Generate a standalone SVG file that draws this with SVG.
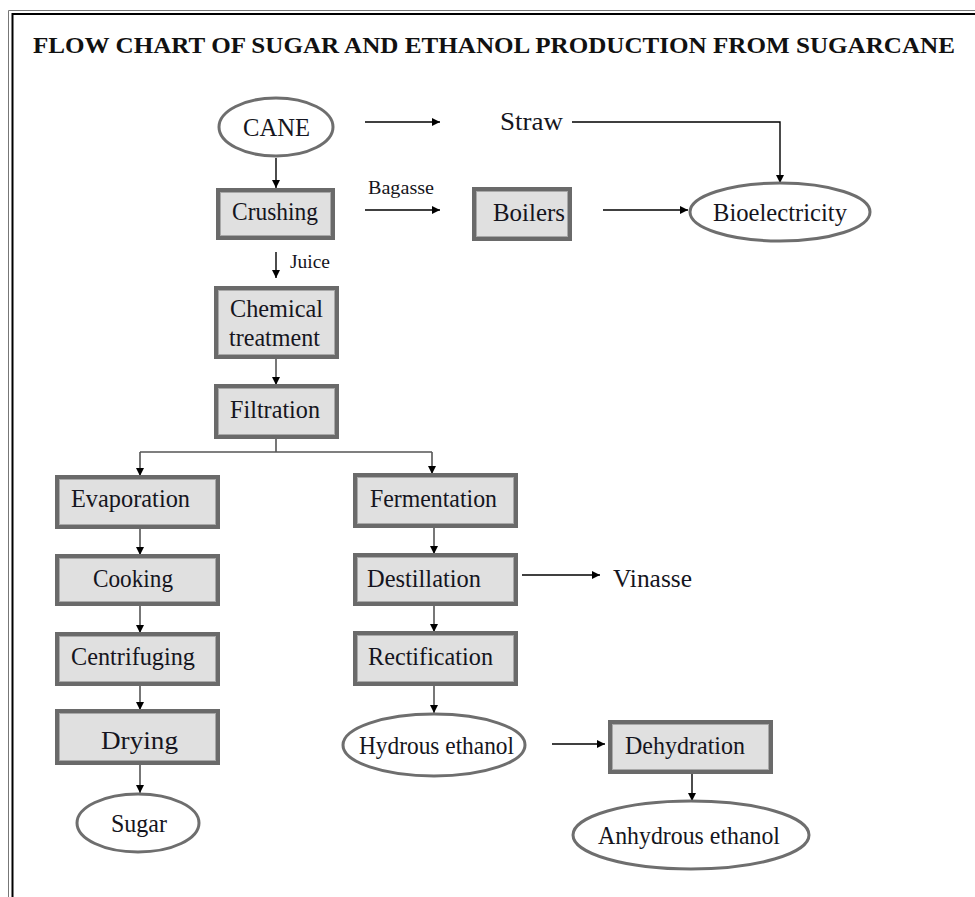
<svg xmlns="http://www.w3.org/2000/svg" width="975" height="897" viewBox="0 0 975 897">
  <defs>
    <marker id="arrow" viewBox="0 0 10 10" refX="10" refY="5" markerWidth="8" markerHeight="8" markerUnits="userSpaceOnUse" orient="auto">
      <path d="M0,0 L10,5 L0,10 z" fill="#000"/>
    </marker>
    <style>
      .box { fill: #e0e0e0; stroke: #6a6a6a; stroke-width: 4; }
      .box-inner { fill: none; stroke: #a8a8a8; stroke-width: 1; }
      .oval { fill: #fff; stroke: #6e6e6e; stroke-width: 3; }
      .lbl { font-size: 26px; fill: #151520; }
      .small { font-size: 19px; fill: #151520; }
      .title { font-size: 24px; font-weight: bold; fill: #111; }
      .link { fill: none; stroke: #000; stroke-width: 1.4; }
      .link-gray { fill: none; stroke: #555; stroke-width: 1.6; }
    </style>
  </defs>

  <rect x="0" y="0" width="975" height="897" fill="#fff"/>

  <!-- page frame (double rule on top and left) -->
  <g id="frame" fill="none">
    <path d="M8.5,897 V10.5 H975" stroke="#777" stroke-width="1"/>
    <path d="M12.5,897 V14 H975" stroke="#000" stroke-width="2"/>
  </g>

  <g font-family="'Liberation Serif', 'DejaVu Serif', serif">
  <text class="title" x="33" y="53" textLength="922" lengthAdjust="spacingAndGlyphs">FLOW CHART OF SUGAR AND ETHANOL PRODUCTION FROM SUGARCANE</text>

  <!-- connectors -->
  <g id="connectors">
    <path class="link" d="M365,122 H440" marker-end="url(#arrow)"/>
    <path class="link" d="M572,122 H780 V183" marker-end="url(#arrow)"/>
    <path class="link" d="M276,158 V188" marker-end="url(#arrow)"/>
    <path class="link" d="M365,210 H440" marker-end="url(#arrow)"/>
    <path class="link" d="M603,210 H688" marker-end="url(#arrow)"/>
    <path class="link" d="M276,252 V278" marker-end="url(#arrow)"/>
    <path class="link-gray" d="M276,358 V385" marker-end="url(#arrow)"/>
    <path class="link-gray" d="M276,438 V452 M140,452 H432"/>
    <path class="link-gray" d="M140,452 V476" marker-end="url(#arrow)"/>
    <path class="link-gray" d="M432,452 V474" marker-end="url(#arrow)"/>
    <path class="link-gray" d="M140,528 V555" marker-end="url(#arrow)"/>
    <path class="link-gray" d="M140,605 V633" marker-end="url(#arrow)"/>
    <path class="link-gray" d="M140,685 V710" marker-end="url(#arrow)"/>
    <path class="link-gray" d="M140,764 V793" marker-end="url(#arrow)"/>
    <path class="link-gray" d="M434,527 V554" marker-end="url(#arrow)"/>
    <path class="link" d="M522,575 H600" marker-end="url(#arrow)"/>
    <path class="link-gray" d="M434,605 V632" marker-end="url(#arrow)"/>
    <path class="link-gray" d="M434,685 V713" marker-end="url(#arrow)"/>
    <path class="link" d="M552,744 H605" marker-end="url(#arrow)"/>
    <path class="link" d="M692,773 V801" marker-end="url(#arrow)"/>
    <text class="small" x="368" y="194" textLength="66" lengthAdjust="spacingAndGlyphs">Bagasse</text>
    <text class="small" x="290" y="268" font-size="17" textLength="40" lengthAdjust="spacingAndGlyphs">Juice</text>
  </g>

  <g id="cane">
    <ellipse class="oval" cx="276" cy="127" rx="57" ry="29"/>
    <text class="lbl" x="243" y="136" textLength="67" lengthAdjust="spacingAndGlyphs">CANE</text>
  </g>
  <g id="straw">
    <text class="lbl" x="500" y="130" textLength="63" lengthAdjust="spacingAndGlyphs">Straw</text>
  </g>
  <g id="crushing">
    <rect class="box" x="218" y="190" width="115" height="48"/>
    <rect class="box-inner" x="220.5" y="192.5" width="110" height="43"/>
    <text class="lbl" x="232" y="220" textLength="86" lengthAdjust="spacingAndGlyphs">Crushing</text>
  </g>
  <g id="boilers">
    <rect class="box" x="474" y="189" width="96" height="50"/>
    <rect class="box-inner" x="476.5" y="191.5" width="91" height="45"/>
    <text class="lbl" x="493" y="221" textLength="72" lengthAdjust="spacingAndGlyphs">Boilers</text>
  </g>
  <g id="bioelectricity">
    <ellipse class="oval" cx="780" cy="212" rx="90" ry="29"/>
    <text class="lbl" x="713" y="221" textLength="134" lengthAdjust="spacingAndGlyphs">Bioelectricity</text>
  </g>
  <g id="chemical-treatment">
    <rect class="box" x="216" y="288" width="121" height="69"/>
    <rect class="box-inner" x="218.5" y="290.5" width="116" height="64"/>
    <text class="lbl" x="230" y="317" textLength="93" lengthAdjust="spacingAndGlyphs">Chemical</text>
    <text class="lbl" x="229" y="346" textLength="91" lengthAdjust="spacingAndGlyphs">treatment</text>
  </g>
  <g id="filtration">
    <rect class="box" x="216" y="386" width="121" height="51"/>
    <rect class="box-inner" x="218.5" y="388.5" width="116" height="46"/>
    <text class="lbl" x="230" y="418" textLength="90" lengthAdjust="spacingAndGlyphs">Filtration</text>
  </g>
  <g id="evaporation">
    <rect class="box" x="57" y="477" width="161" height="50"/>
    <rect class="box-inner" x="59.5" y="479.5" width="156" height="45"/>
    <text class="lbl" x="71" y="507" textLength="119" lengthAdjust="spacingAndGlyphs">Evaporation</text>
  </g>
  <g id="cooking">
    <rect class="box" x="57" y="556" width="161" height="48"/>
    <rect class="box-inner" x="59.5" y="558.5" width="156" height="43"/>
    <text class="lbl" x="93" y="587" textLength="80" lengthAdjust="spacingAndGlyphs">Cooking</text>
  </g>
  <g id="centrifuging">
    <rect class="box" x="57" y="634" width="161" height="50"/>
    <rect class="box-inner" x="59.5" y="636.5" width="156" height="45"/>
    <text class="lbl" x="71" y="665" textLength="124" lengthAdjust="spacingAndGlyphs">Centrifuging</text>
  </g>
  <g id="drying">
    <rect class="box" x="57" y="711" width="161" height="52"/>
    <rect class="box-inner" x="59.5" y="713.5" width="156" height="47"/>
    <text class="lbl" x="101" y="749" textLength="77" lengthAdjust="spacingAndGlyphs">Drying</text>
  </g>
  <g id="sugar">
    <ellipse class="oval" cx="138" cy="823" rx="61" ry="29"/>
    <text class="lbl" x="111" y="832" textLength="56" lengthAdjust="spacingAndGlyphs">Sugar</text>
  </g>
  <g id="fermentation">
    <rect class="box" x="355" y="475" width="161" height="51"/>
    <rect class="box-inner" x="357.5" y="477.5" width="156" height="46"/>
    <text class="lbl" x="370" y="507" textLength="127" lengthAdjust="spacingAndGlyphs">Fermentation</text>
  </g>
  <g id="destillation">
    <rect class="box" x="355" y="555" width="161" height="49"/>
    <rect class="box-inner" x="357.5" y="557.5" width="156" height="44"/>
    <text class="lbl" x="367" y="587" textLength="114" lengthAdjust="spacingAndGlyphs">Destillation</text>
  </g>
  <g id="vinasse">
    <text class="lbl" x="613" y="587" textLength="79" lengthAdjust="spacingAndGlyphs">Vinasse</text>
  </g>
  <g id="rectification">
    <rect class="box" x="355" y="633" width="161" height="51"/>
    <rect class="box-inner" x="357.5" y="635.5" width="156" height="46"/>
    <text class="lbl" x="368" y="665" textLength="125" lengthAdjust="spacingAndGlyphs">Rectification</text>
  </g>
  <g id="hydrous-ethanol">
    <ellipse class="oval" cx="434" cy="745" rx="91" ry="31"/>
    <text class="lbl" x="359" y="754" textLength="155" lengthAdjust="spacingAndGlyphs">Hydrous ethanol</text>
  </g>
  <g id="dehydration">
    <rect class="box" x="610" y="722" width="161" height="50"/>
    <rect class="box-inner" x="612.5" y="724.5" width="156" height="45"/>
    <text class="lbl" x="625" y="754" textLength="120" lengthAdjust="spacingAndGlyphs">Dehydration</text>
  </g>
  <g id="anhydrous-ethanol">
    <ellipse class="oval" cx="691" cy="835" rx="118" ry="34"/>
    <text class="lbl" x="598" y="844" textLength="182" lengthAdjust="spacingAndGlyphs">Anhydrous ethanol</text>
  </g>
  </g>
</svg>
